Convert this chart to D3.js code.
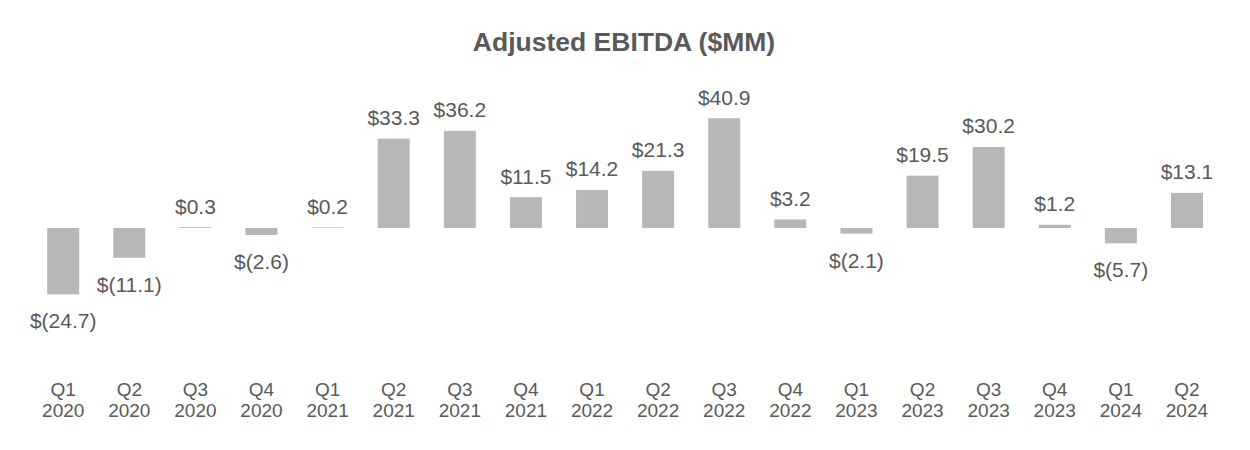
<!DOCTYPE html>
<html>
<head>
<meta charset="utf-8">
<script src="https://cdn.jsdelivr.net/npm/d3@7/dist/d3.min.js"></script>
<style>
  html, body { margin: 0; padding: 0; background: #ffffff; }
  svg { display: block; }
  text { font-family: Arial, "Liberation Sans", Helvetica, sans-serif; fill: #595959; }
</style>
</head>
<body>
<svg id="chart" width="1250" height="450"></svg>
<script>
const title = "Adjusted EBITDA ($MM)";
const quarters = ["Q1","Q2","Q3","Q4","Q1","Q2","Q3","Q4","Q1","Q2","Q3","Q4","Q1","Q2","Q3","Q4","Q1","Q2"];
const years = ["2020","2020","2020","2020","2021","2021","2021","2021","2022","2022","2022","2022","2023","2023","2023","2023","2024","2024"];
const ebitda = [-24.7, -11.1, 0.3, -2.6, 0.2, 33.3, 36.2, 11.5, 14.2, 21.3, 40.9, 3.2, -2.1, 19.5, 30.2, 1.2, -5.7, 13.1];

const categories = quarters.map((q, i) => q + " " + years[i]);
const data = categories.map((c, i) => ({ cat: c, q: quarters[i], yr: years[i], v: ebitda[i] }));

const svg = d3.select("#chart");

const x = d3.scaleBand()
  .domain(categories)
  .range([30.15, 1220])
  .paddingInner(0.516)
  .paddingOuter(0.258);

const y = d3.scaleLinear()
  .domain([-30, 45])
  .range([308.55, 107.2]);

const fmt = v => v < 0 ? "$(" + d3.format(".1f")(-v) + ")" : "$" + d3.format(".1f")(v);

// Title
svg.append("text")
  .attr("x", 624)
  .attr("y", 51)
  .attr("text-anchor", "middle")
  .attr("font-size", 26.5)
  .attr("font-weight", "bold")
  .text(title);

// Bars
svg.append("g").selectAll("rect")
  .data(data)
  .join("rect")
  .attr("x", d => x(d.cat))
  .attr("width", x.bandwidth())
  .attr("y", d => y(Math.max(0, d.v)))
  .attr("height", d => Math.abs(y(d.v) - y(0)))
  .attr("fill", "#b7b7b7");

// Value labels
svg.append("g").selectAll("text")
  .data(data)
  .join("text")
  .attr("x", d => x(d.cat) + x.bandwidth() / 2)
  .attr("y", d => d.v >= 0 ? y(d.v) - 13.5 : y(d.v) + 34)
  .attr("text-anchor", "middle")
  .attr("font-size", 21)
  .text(d => fmt(d.v));

// Category axis (two-line labels)
const axis = d3.axisBottom(x).tickSize(0).tickFormat(() => "");
const axG = svg.append("g").attr("transform", "translate(0,380)").call(axis);
axG.select(".domain").remove();
axG.selectAll(".tick").each(function(d, i) {
  const t = d3.select(this).select("text")
    .attr("y", 0).attr("dy", null)
    .attr("font-size", 19)
    .attr("fill", "#595959")
    .attr("font-family", "Arial, 'Liberation Sans', Helvetica, sans-serif");
  t.append("tspan").attr("x", 0).attr("y", 16).text(data[i].q);
  t.append("tspan").attr("x", 0).attr("y", 37.3).text(data[i].yr);
});
</script>
</body>
</html>
